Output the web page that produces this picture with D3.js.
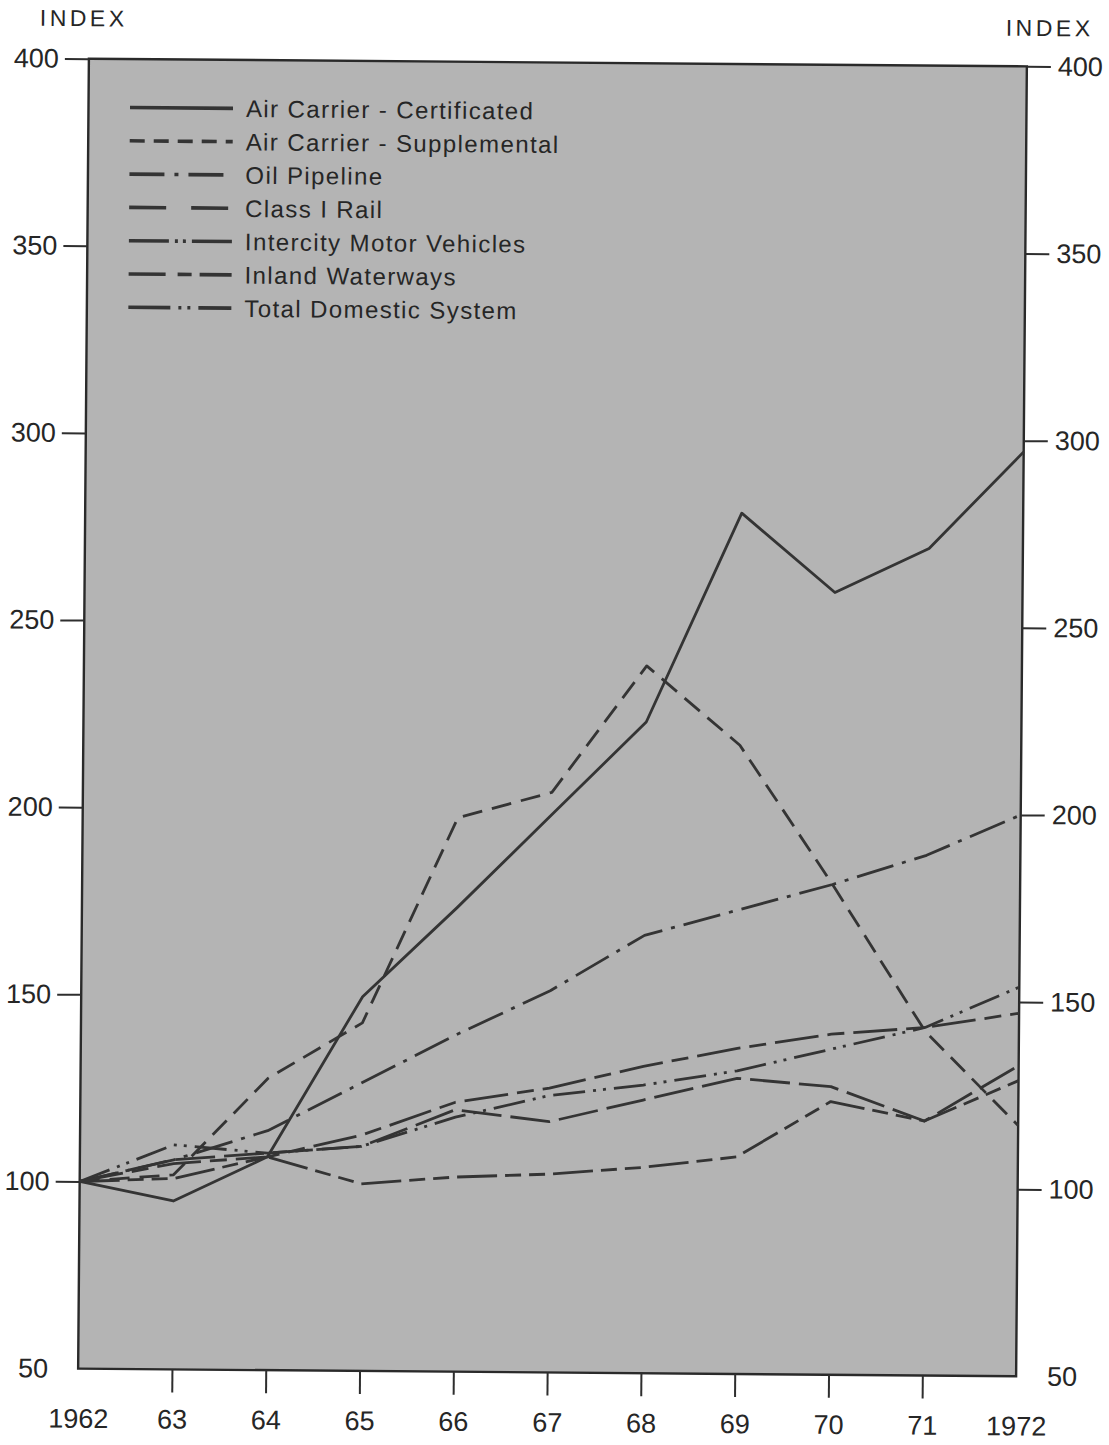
<!DOCTYPE html>
<html>
<head>
<meta charset="utf-8">
<script src="https://cdn.jsdelivr.net/npm/d3@7"></script>
<style>
  html, body { margin: 0; padding: 0; background: #ffffff; }
  svg { display: block; }
</style>
</head>
<body>
<div id="chart"></div>
<script>
// ---------------- data ----------------
const years = [1962, 1963, 1964, 1965, 1966, 1967, 1968, 1969, 1970, 1971, 1972];
const xTickLabels = ["1962", "63", "64", "65", "66", "67", "68", "69", "70", "71", "1972"];
const yTickValues = [50, 100, 150, 200, 250, 300, 350, 400];

const seriesNames = [
  "Air Carrier - Certificated",
  "Air Carrier - Supplemental",
  "Oil Pipeline",
  "Class I Rail",
  "Intercity Motor Vehicles",
  "Inland Waterways",
  "Total Domestic System"
];

const airCertificated  = [100, 95, 107, 150, 174, 199, 224, 280, 259, 271, 297];
const airSupplemental  = [100, 102, 128, 143, 198, 205, 239, 218, 181, 142, 117];
const oilPipeline      = [100, 106, 114, 127, 140, 152, 167, 174, 181, 189, 200];
const classIRail       = [100, 106, 108, 110, 120, 117, 123, 129, 127, 118, 133];
const intercityMotor   = [100, 110, 108, 110, 118, 124, 127, 131, 137, 143, 154];
const inlandWaterways  = [100, 101, 107, 100, 102, 103, 105, 108, 123, 118, 129];
const totalDomestic    = [100, 105, 107, 113, 122, 126, 132, 137, 141, 143, 147];

const seriesValues = [airCertificated, airSupplemental, oilPipeline, classIRail,
                      intercityMotor, inlandWaterways, totalDomestic];

// line dash patterns (chart lines, legend samples)
const chartDash  = [null, "20,10", "38,9,4,9", "40,9", "32,8,3,7,3,8", "40,8,16,8,16,8", "44,9,17,9"];
const legendDash = [null, "15,9", "35,10,4,10", "37,25", "40,6,3,5,3,6", "37,12,14,8", "42,8,3,6,3,8"];

// ---------------- layout ----------------
const W = 1109, H = 1445;
const plotL = 83.5, plotR = 1021.5, plotT = 62.5, plotB = 1372.5;
const cx = (plotL + plotR) / 2, cy = (plotT + plotB) / 2;
const tilt = 0.47;  // the scanned page is slightly rotated

const ink = "#2e2e2e";
const lineInk = "#343434";
const font = "'Liberation Sans', Arial, Helvetica, sans-serif";

const svg = d3.select("#chart").append("svg")
  .attr("width", W).attr("height", H)
  .style("background", "#ffffff");

const g = svg.append("g").attr("transform", `rotate(${tilt},${cx},${cy})`);

const x = d3.scaleLinear().domain([1962, 1972]).range([plotL, plotR]);
const y = d3.scaleLinear().domain([50, 400]).range([plotB, plotT]);

// plot area
g.append("rect")
  .attr("x", plotL).attr("y", plotT)
  .attr("width", plotR - plotL).attr("height", plotB - plotT)
  .attr("fill", "#b4b4b4")
  .attr("stroke", "#2a2a2a").attr("stroke-width", 2.4);

// axes
function styleAxis(sel) {
  sel.select(".domain").remove();
  sel.selectAll(".tick line").attr("stroke", ink).attr("stroke-width", 2);
  sel.selectAll(".tick text")
    .attr("fill", "#262626")
    .style("font-family", font)
    .style("font-size", "27px");
}

const leftAxis = g.append("g")
  .attr("transform", `translate(${plotL},0)`)
  .call(d3.axisLeft(y).tickValues(yTickValues).tickSize(24).tickPadding(6).tickFormat(d3.format("d")))
  .call(styleAxis);
leftAxis.selectAll(".tick").filter(d => d === 50).select("line").remove();

const rightAxis = g.append("g")
  .attr("transform", `translate(${plotR},0)`)
  .call(d3.axisRight(y).tickValues(yTickValues).tickSize(24).tickPadding(7).tickFormat(d3.format("d")))
  .call(styleAxis);
rightAxis.selectAll(".tick").filter(d => d === 50).select("line").remove();

const bottomAxis = g.append("g")
  .attr("transform", `translate(0,${plotB})`)
  .call(d3.axisBottom(x).tickValues(years).tickSize(23).tickPadding(17)
        .tickFormat((d, i) => xTickLabels[i]))
  .call(styleAxis);
bottomAxis.selectAll(".tick").filter(d => d === 1962 || d === 1972).select("line").remove();

// axis titles
g.append("text").attr("x", 78).attr("y", 22).attr("text-anchor", "middle")
  .attr("dy", "0.35em").attr("fill", "#262626")
  .style("font-family", font).style("font-size", "23px").style("letter-spacing", "3.5px")
  .text("INDEX");
g.append("text").attr("x", 1044).attr("y", 24).attr("text-anchor", "middle")
  .attr("dy", "0.35em").attr("fill", "#262626")
  .style("font-family", font).style("font-size", "23px").style("letter-spacing", "3.5px")
  .text("INDEX");

// series lines
const line = d3.line().x((d, i) => x(years[i])).y(d => y(d));

g.append("g").selectAll("path")
  .data(seriesValues)
  .join("path")
  .attr("d", d => line(d))
  .attr("fill", "none")
  .attr("stroke", lineInk)
  .attr("stroke-width", 2.8)
  .attr("stroke-linejoin", "round")
  .attr("stroke-dasharray", (d, i) => chartDash[i]);

// legend
const legend = g.append("g");
const rowY = i => 111 + i * 33.3;
legend.selectAll("line")
  .data(seriesNames)
  .join("line")
  .attr("x1", 125).attr("x2", 228)
  .attr("y1", (d, i) => rowY(i)).attr("y2", (d, i) => rowY(i))
  .attr("stroke", lineInk).attr("stroke-width", 3.6)
  .attr("stroke-dasharray", (d, i) => legendDash[i]);
legend.selectAll("text")
  .data(seriesNames)
  .join("text")
  .attr("x", 241).attr("y", (d, i) => rowY(i)).attr("dy", "0.36em")
  .attr("fill", "#262626")
  .style("font-family", font).style("font-size", "24px").style("letter-spacing", "1.4px")
  .text(d => d);
</script>
</body>
</html>
